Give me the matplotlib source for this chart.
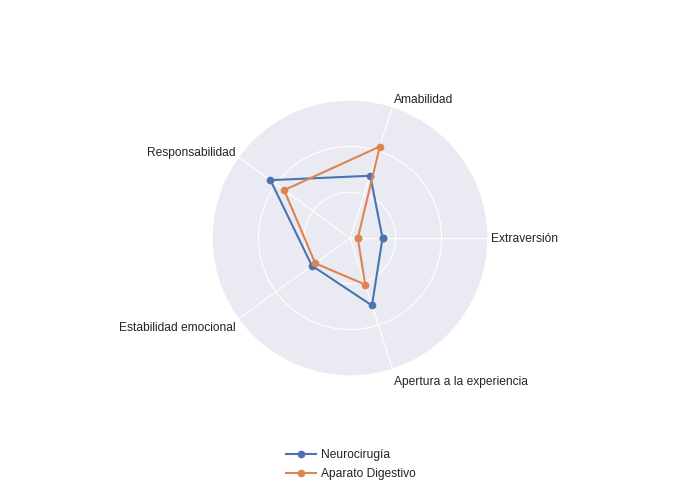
import numpy as np
import matplotlib
matplotlib.use("Agg")
import matplotlib.pyplot as plt

categories = ["Extraversión", "Amabilidad", "Responsabilidad",
              "Estabilidad emocional", "Apertura a la experiencia"]
series_names = ["Neurocirugía", "Aparato Digestivo"]
neuro = [0.71, 1.43, 2.15, 1.03, 1.55]
digest = [0.17, 2.10, 1.78, 0.94, 1.07]
colors = ["#4C72B0", "#DD8452"]

plt.rcParams['font.family'] = ['Liberation Sans', 'DejaVu Sans']
FS = 8.64
TXT = '#242424'

fig = plt.figure(figsize=(7, 5), dpi=100)
ax = fig.add_axes([0.3039, 0.2494, 0.3923, 0.5492], projection='polar')
ax.set_facecolor('#EAEAF2')

n = len(categories)
angles = np.deg2rad(np.arange(n) * 360.0 / n)
closed = np.append(angles, angles[0])

handles = []
for name, vals, c in zip(series_names, [neuro, digest], colors):
    v = np.append(vals, vals[0])
    h, = ax.plot(closed, v, color=c, lw=1.5, marker='o', markersize=4.5,
                 label=name, zorder=3, clip_on=False)
    handles.append(h)

ax.set_ylim(0, 3)
ax.set_yticks([1, 2])
ax.set_yticklabels([])
ax.set_xticks(angles)
ax.set_xticklabels([])
ax.grid(True, color='white', lw=0.8)
ax.spines['polar'].set_visible(False)
ax.tick_params(length=0)

label_specs = [
    ('left', 'center', (4, -1.5)),
    ('left', 'bottom', (2, 1.5)),
    ('right', 'bottom', (-3, -1.5)),
    ('right', 'top', (-3, -3.5)),
    ('left', 'top', (2, -7.5)),
]
for a, lab, (ha, va, off) in zip(angles, categories, label_specs):
    ax.annotate(lab, xy=(a, 3), xytext=off, textcoords='offset pixels',
                ha=ha, va=va, fontsize=FS, color=TXT, annotation_clip=False)

fig.legend(handles=handles, labels=series_names, loc='center left',
           bbox_to_anchor=(285.5 / 700, 1 - 464.5 / 500), frameon=False,
           fontsize=FS, handlelength=2.5, handletextpad=0.42,
           labelspacing=0.55, borderpad=0, borderaxespad=0,
           labelcolor=TXT)

fig.savefig('out.png', dpi=100)
